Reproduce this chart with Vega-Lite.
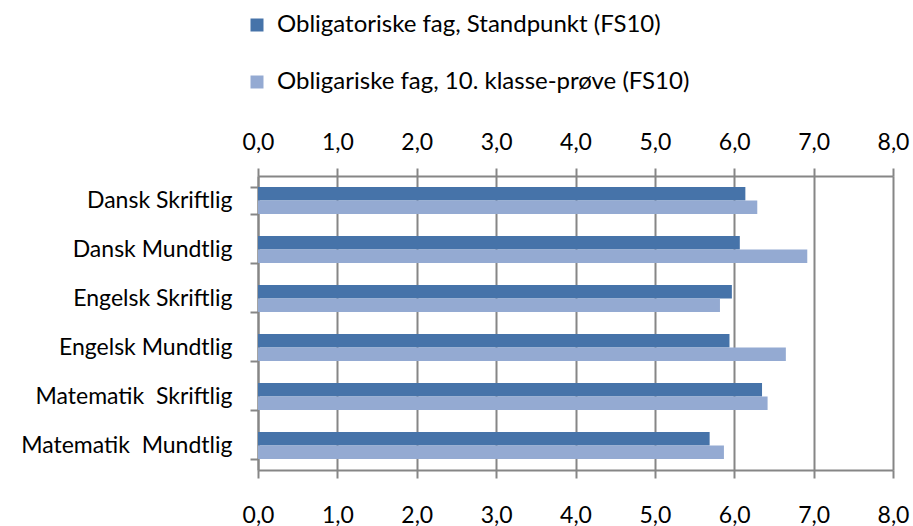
{
  "$schema": "https://vega.github.io/schema/vega-lite/v6.json",
  "width": 635,
  "height": 294,
  "autosize": {"type": "none"},
  "padding": {"left": 258, "top": 176, "right": 20, "bottom": 56},
  "background": "white",
  "config": {
    "font": "Lato",
    "view": {"stroke": null},
    "axis": {"labelFont": "Lato", "labelFontSize": 23, "labelColor": "#000000", "domainColor": "#868686", "domainWidth": 2, "tickColor": "#868686", "tickWidth": 2, "tickSize": 8}
  },
  "data": {
    "values": [
      {"fag": "Dansk Skriftlig", "serie": "Obligatoriske fag, Standpunkt (FS10)", "v": 6.14},
      {"fag": "Dansk Skriftlig", "serie": "Obligariske fag, 10. klasse-prøve (FS10)", "v": 6.29},
      {"fag": "Dansk Mundtlig", "serie": "Obligatoriske fag, Standpunkt (FS10)", "v": 6.07},
      {"fag": "Dansk Mundtlig", "serie": "Obligariske fag, 10. klasse-prøve (FS10)", "v": 6.92},
      {"fag": "Engelsk Skriftlig", "serie": "Obligatoriske fag, Standpunkt (FS10)", "v": 5.97},
      {"fag": "Engelsk Skriftlig", "serie": "Obligariske fag, 10. klasse-prøve (FS10)", "v": 5.82},
      {"fag": "Engelsk Mundtlig", "serie": "Obligatoriske fag, Standpunkt (FS10)", "v": 5.94},
      {"fag": "Engelsk Mundtlig", "serie": "Obligariske fag, 10. klasse-prøve (FS10)", "v": 6.65},
      {"fag": "Matematik\u00a0 Skriftlig", "serie": "Obligatoriske fag, Standpunkt (FS10)", "v": 6.35},
      {"fag": "Matematik\u00a0 Skriftlig", "serie": "Obligariske fag, 10. klasse-prøve (FS10)", "v": 6.42},
      {"fag": "Matematik\u00a0 Mundtlig", "serie": "Obligatoriske fag, Standpunkt (FS10)", "v": 5.69},
      {"fag": "Matematik\u00a0 Mundtlig", "serie": "Obligariske fag, 10. klasse-prøve (FS10)", "v": 5.87}
    ]
  },
  "encoding": {
    "y": {
      "field": "fag", "type": "nominal", "sort": null,
      "scale": {"paddingInner": 0.45, "paddingOuter": 0.225},
      "axis": {"title": null, "tickBand": "extent", "labelPadding": 18, "labelLimit": 400, "grid": false}
    }
  },
  "layer": [
    {
      "mark": {"type": "bar"},
      "encoding": {
        "x": {
          "field": "v", "type": "quantitative",
          "scale": {"domain": [0, 8], "nice": false},
          "axis": {"orient": "bottom", "title": null, "values": [0,1,2,3,4,5,6,7,8], "grid": true, "gridColor": "#868686", "gridWidth": 2, "gridOpacity": 1, "labelPadding": 26, "labelAlign": "center", "labelFlush": false, "labelExpr": "replace(format(datum.value, '.1f'), '.', ',')"}
        },
        "yOffset": {"field": "serie", "type": "nominal", "sort": ["Obligatoriske fag, Standpunkt (FS10)", "Obligariske fag, 10. klasse-prøve (FS10)"]},
        "color": {
          "field": "serie", "type": "nominal",
          "sort": ["Obligatoriske fag, Standpunkt (FS10)", "Obligariske fag, 10. klasse-prøve (FS10)"],
          "scale": {"domain": ["Obligatoriske fag, Standpunkt (FS10)", "Obligariske fag, 10. klasse-prøve (FS10)"], "range": ["#4673A9", "#94AAD2"]},
          "legend": {"title": null, "orient": "none", "legendX": -13, "legendY": -163, "direction": "vertical", "symbolType": "square", "symbolSize": 169, "symbolStrokeWidth": 0, "symbolOpacity": 1, "labelFont": "Lato", "labelFontSize": 24, "labelColor": "#000000", "labelOffset": 8, "rowPadding": 33, "labelLimit": 600, "padding": 0}
        }
      }
    },
    {
      "mark": {"type": "tick", "opacity": 0},
      "encoding": {
        "x": {
          "field": "v", "type": "quantitative",
          "axis": {"orient": "top", "title": null, "values": [0,1,2,3,4,5,6,7,8], "grid": false, "labelPadding": 14, "labelAlign": "center", "labelFlush": false, "labelExpr": "replace(format(datum.value, '.1f'), '.', ',')"}
        }
      }
    }
  ],
  "resolve": {"axis": {"x": "independent"}}
}
